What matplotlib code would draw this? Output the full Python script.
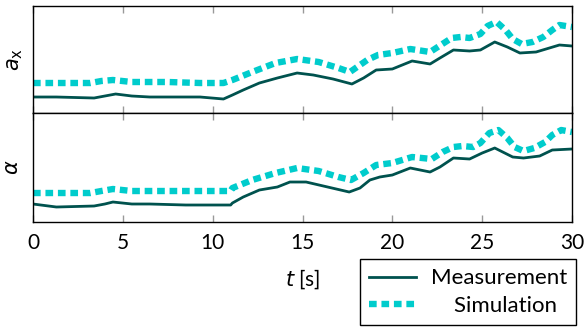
import matplotlib
matplotlib.use("Agg")
import matplotlib.pyplot as plt

plt.rcParams["font.family"] = ["Lato", "DejaVu Sans"]
plt.rcParams["mathtext.fontset"] = "dejavusans"

MEAS_COLOR = "#00524E"
SIM_COLOR = "#00CCCC"

# top panel: longitudinal acceleration a_x (arbitrary units), time in s
t_top_meas = [0, 1.3, 3.4, 4.0, 4.6, 5.5, 6.5, 8.5, 9.3, 10.6, 11.1, 11.7, 12.6, 13.6, 14.7,
              15.6, 16.7, 17.75, 18.4, 19.1, 20.0, 21.1, 22.1, 22.65, 23.4, 24.3, 24.9,
              25.7, 26.4, 27.1, 28.0, 29.3, 30.0]
ax_meas = [16, 16, 15, 17, 19, 17, 16, 16, 16, 14, 18, 23, 30, 35, 40,
           38, 34, 29, 35, 43, 44, 52, 49, 55, 63, 62, 63,
           71, 66, 60, 61, 68, 67]

t_top_sim = [0, 1.5, 3.2, 3.8, 4.45, 5.5, 7.5, 9.3, 10.6, 11.1, 12.2, 13.5, 14.7, 15.9,
             17.0, 17.64, 18.6, 19.2, 20.0, 21.0, 22.1, 22.7, 23.3, 23.8, 24.3, 24.9,
             25.3, 25.8, 26.3, 26.7, 27.2, 27.8, 28.4, 28.9, 29.3, 30.0]
ax_sim = [30, 30, 30, 32, 33, 31, 31, 30, 30, 33, 41, 50, 54, 51,
          45, 41, 53, 58, 60, 64, 61, 68, 75, 76, 75, 79,
          87, 91, 83, 74, 69, 71, 76, 83, 88, 86]

# bottom panel: angle alpha (arbitrary units)
t_bot_meas = [0, 1.3, 3.4, 4.0, 4.45, 5.5, 6.5, 8.5, 9.3, 11.0, 11.1, 11.7, 12.6, 13.6, 14.3,
              15.2, 16.4, 17.6, 18.2, 18.75, 19.3, 20.0, 21.0, 22.1, 22.65, 23.4, 24.3,
              25.0, 25.7, 26.7, 27.3, 28.2, 28.9, 30.0]
alpha_meas = [18, 15, 16, 18, 20, 18, 18, 17, 17, 17, 19, 25, 32, 35, 40,
              40, 35, 30, 34, 42, 45, 47, 54, 50, 55, 64, 63,
              69, 74, 65, 64, 66, 72, 73]

t_bot_sim = [0, 1.5, 3.2, 3.8, 4.45, 5.5, 7.5, 9.3, 11.0, 11.1, 12.2, 13.5, 14.7, 15.9,
             17.0, 17.7, 18.4, 19.1, 20.0, 21.1, 22.2, 22.8, 23.4, 23.9, 24.5, 24.9,
             25.4, 25.9, 26.4, 26.8, 27.3, 27.9, 28.5, 28.9, 29.4, 30.0]
alpha_sim = [29, 29, 29, 31, 33, 31, 31, 31, 31, 34, 42, 49, 54, 51,
             45, 42, 49, 57, 59, 65, 63, 70, 75, 76, 75, 79,
             89, 92, 84, 75, 71, 74, 80, 87, 92, 90]

x_ticks = [0, 5, 10, 15, 20, 25, 30]


def style_axis(ax, show_labels):
    ax.set_xlim(0, 30)
    ax.set_yticks([])
    ax.set_xticks(x_ticks)
    ax.tick_params(axis="x", direction="in", length=5, width=1, color="#999999",
                   top=True, bottom=True, labelbottom=show_labels, labelsize=15, pad=8)
    for s in ax.spines.values():
        s.set_linewidth(1.0)
        s.set_color("black")


def main():
    fig = plt.figure(figsize=(5.85, 3.29), dpi=100)
    ax1 = fig.add_axes([0.0564, 0.6565, 0.9214, 0.3253])
    ax2 = fig.add_axes([0.0564, 0.3252, 0.9214, 0.3313])

    sim_kw = dict(color=SIM_COLOR, lw=4.6, dashes=(1.2, 0.75), dash_capstyle="butt",
                  solid_joinstyle="round")
    meas_kw = dict(color=MEAS_COLOR, lw=2.0, solid_joinstyle="round")

    ax1.plot(t_top_sim, ax_sim, **sim_kw)
    ax1.plot(t_top_meas, ax_meas, **meas_kw)
    ax1.set_ylim(0, 107)
    style_axis(ax1, False)
    ax1.set_ylabel(r"$a_\mathrm{x}$", fontsize=15, labelpad=6)

    ax2.plot(t_bot_sim, alpha_sim, **sim_kw)
    ax2.plot(t_bot_meas, alpha_meas, **meas_kw)
    ax2.set_ylim(0, 109)
    style_axis(ax2, True)
    ax2.set_ylabel(r"$\alpha$", fontsize=15, labelpad=8)
    ax2.set_xlabel(r"$t$ [s]", fontsize=15, labelpad=10)

    h_meas, = ax2.plot([], [], label="Measurement", **meas_kw)
    h_sim, = ax2.plot([], [], label="    Simulation", **sim_kw)
    leg = fig.legend(handles=[h_meas, h_sim], loc="lower right",
                     bbox_to_anchor=(0.985, 0.012), borderaxespad=0, fontsize=16,
                     frameon=True, fancybox=False, edgecolor="black", framealpha=1,
                     handlelength=2.1, handletextpad=0.7, borderpad=0.4,
                     labelspacing=0.35)
    leg.get_frame().set_linewidth(1.0)

    fig.savefig("out.png", dpi=100)
    plt.close(fig)


if __name__ == "__main__":
    main()
